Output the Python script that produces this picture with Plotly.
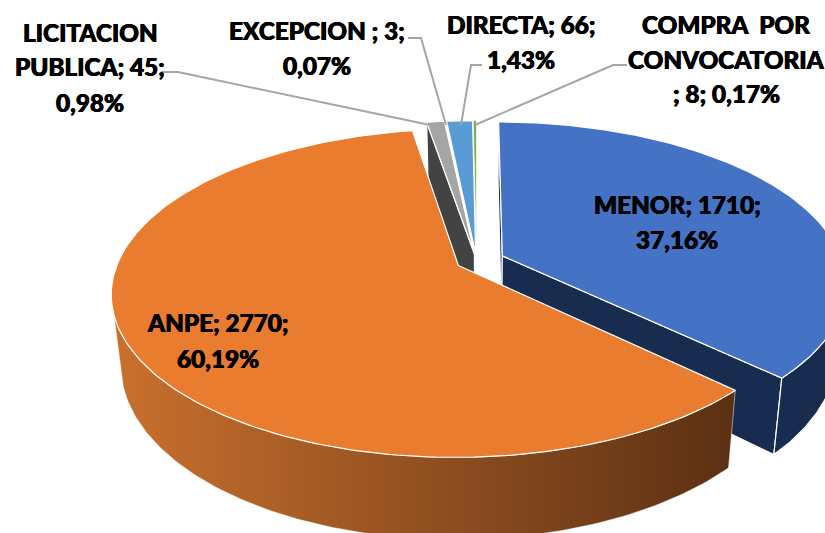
import numpy as np
import plotly.graph_objects as go

categories = ["MENOR", "ANPE", "LICITACION PUBLICA", "EXCEPCION", "DIRECTA", "COMPRA POR CONVOCATORIA"]
values = [1710, 2770, 45, 3, 66, 8]
top_colors = ["#4472c4", "#ea7c30", "#a5a5a5", "#ffc000", "#5b9bd5", "#70ad47"]
explode = [0.083, 0.06, 0.045, 0.045, 0.045, 0.045]

label_lines = [
    (["MENOR; 1710;", "37,16%"], 677, [204, 239]),
    (["ANPE; 2770;", "60,19%"], 218, [322, 358]),
    (["LICITACION", "PUBLICA; 45;", "0,98%"], 90, [32, 66, 102]),
    (["EXCEPCION ; 3;", "0,07%"], 317, [30, 65]),
    (["DIRECTA; 66;", "1,43%"], 521, [24, 59]),
    (["COMPRA  POR", "CONVOCATORIA", "; 8; 0,17%"], 726, [24, 59, 93]),
]
leaders = [
    ([161, 178, 430], [72, 72, 125]),
    ([408, 421, 446], [38, 38, 125]),
    ([482, 471, 461], [65, 65, 125]),
    ([627, 613, 475], [65, 65, 125]),
]

CX, CY, RX, RY, K, H, SHRINK = 476.5, 261, 340, 158, 0.168, 68, 0.026


def project(theta_deg, r, e_a, e_b, z=0.0):
    t = np.radians(theta_deg)
    a = r * np.sin(t) + e_a
    b = -r * np.cos(t) + e_b
    s = 1 / (1 - K * b)
    x = CX + RX * a * s
    y = CY + RY * b * s
    return CX + (x - CX) * (1 - SHRINK * z), y + H * s * z


fractions = np.array(values) / sum(values)
edges = np.concatenate([[0], np.cumsum(fractions) * 360])
slices = []
for i in range(len(values)):
    t0, t1 = edges[i], edges[i + 1]
    mid = np.radians((t0 + t1) / 2)
    slices.append(dict(t0=t0, t1=t1, ea=explode[i] * np.sin(mid), eb=-explode[i] * np.cos(mid)))

fig = go.Figure()


def poly(xs, ys, fill, line="white", width=1.2, gradient=None):
    kw = dict(fillgradient=gradient) if gradient else dict(fillcolor=fill)
    fig.add_trace(go.Scatter(x=list(xs) + [xs[0]], y=list(ys) + [ys[0]], mode="lines", fill="toself",
                             line=dict(color=line, width=width), hoverinfo="skip", showlegend=False, **kw))


def radial_wall(s, theta, fill, width=1.2):
    p = [project(theta, 1, s["ea"], s["eb"]), project(theta, 0, s["ea"], s["eb"]),
         project(theta, 0, s["ea"], s["eb"], 1), project(theta, 1, s["ea"], s["eb"], 1)]
    poly([q[0] for q in p], [q[1] for q in p], fill, width=width)


def outer_wall(s, t0, t1, fill, gradient=None, width=1.2):
    th = np.linspace(t0, t1, 120)
    xt, yt = project(th, 1, s["ea"], s["eb"])
    xb, yb = project(th, 1, s["ea"], s["eb"], 1)
    poly(np.concatenate([xt, xb[::-1]]), np.concatenate([yt, yb[::-1]]), fill, gradient=gradient, width=width)


def top(s, fill, width=1.2, line="white"):
    th = np.linspace(s["t0"], s["t1"], 200)
    x, y = project(th, 1, s["ea"], s["eb"])
    x0, y0 = project(0, 0, s["ea"], s["eb"])
    poly(np.concatenate([[x0], x]), np.concatenate([[y0], y]), fill, width=width, line=line)


menor, anpe, licit, excep, directa, compra = slices

# small slices: side wall, then tops
radial_wall(licit, licit["t0"], "#434343")
top(licit, top_colors[2])
top(excep, top_colors[3], width=1.2)
top(directa, top_colors[4])
top(compra, top_colors[5], width=0.7)

# MENOR
radial_wall(menor, menor["t0"], "#182c50")
radial_wall(menor, menor["t1"], "#182c50")
outer_wall(menor, 50, menor["t1"], "#182c50")
top(menor, top_colors[0])

# ANPE
outer_wall(anpe, anpe["t0"], 253, None, gradient=dict(
    type="horizontal", colorscale=[[0, "#c9702e"], [1, "#5b3013"]]), width=0.5)
top(anpe, top_colors[1])

for xs, ys in leaders:
    fig.add_trace(go.Scatter(x=xs, y=ys, mode="lines", line=dict(color="#a5a5a5", width=2),
                             hoverinfo="skip", showlegend=False))

for lines, cx, ys in label_lines:
    for text, y in zip(lines, ys):
        fig.add_annotation(x=cx, y=y, text=text, showarrow=False, xanchor="center", yanchor="middle",
                           font=dict(family="Lato", size=24.3, color="#000000", weight=900,
                                     shadow="0.4px 0 0 #000, -0.4px 0 0 #000"))

fig.update_layout(width=825, height=533, autosize=False, margin=dict(l=0, r=0, t=0, b=0),
                  paper_bgcolor="white", plot_bgcolor="white", showlegend=False,
                  xaxis=dict(range=[0, 825], visible=False, fixedrange=True),
                  yaxis=dict(range=[533, 0], visible=False, fixedrange=True))
fig.write_html("out.html", config={"displayModeBar": False},
               post_script="document.body.style.margin='0';document.documentElement.style.overflow='hidden';")
